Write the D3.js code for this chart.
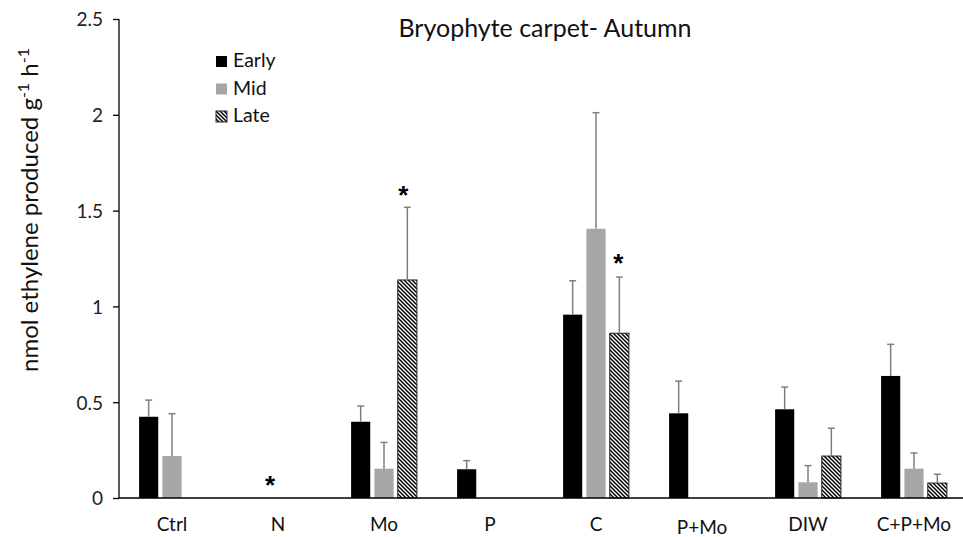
<!DOCTYPE html>
<html>
<head>
<meta charset="utf-8">
<script src="https://cdn.jsdelivr.net/npm/d3@7"></script>
<style>
  body { margin: 0; background: #fff; }
  text { font-family: Lato, "Open Sans", sans-serif; }
</style>
</head>
<body>
<div class="chart"></div>
<script>
var svgWidth = 963;
var svgHeight = 537;

// categories and series
var categories = ["Ctrl", "N", "Mo", "P", "C", "P+Mo", "DIW", "C+P+Mo"];
var seriesNames = ["Early", "Mid", "Late"];

// mean values
var early = [0.424, 0, 0.398, 0.15, 0.957, 0.442, 0.463, 0.637];
var mid   = [0.219, 0, 0.153, 0, 1.405, 0, 0.082, 0.153];
var late  = [0, 0, 1.138, 0, 0.86, 0, 0.219, 0.078];

// upper error bars
var earlyErr = [0.087, 0, 0.082, 0.045, 0.177, 0.168, 0.116, 0.165];
var midErr   = [0.221, 0, 0.137, 0, 0.606, 0, 0.087, 0.082];
var lateErr  = [0, 0, 0.379, 0, 0.293, 0, 0.145, 0.046];

// significance stars: category, series, value where the star sits
var stars = [
  { cat: "N", series: "Mid", value: 0.10, dx: -8 },
  { cat: "Mo", series: "Late", value: 1.615, dx: -4 },
  { cat: "C", series: "Late", value: 1.26, dx: -1 }
];

var yTicks = [0, 0.5, 1, 1.5, 2, 2.5];

var margin = { top: 19, left: 119, bottom: 39 };
var plotRight = 967;
var height = svgHeight - margin.top - margin.bottom;

var svg = d3.select(".chart")
  .append("svg")
  .attr("width", svgWidth)
  .attr("height", svgHeight);

var defs = svg.append("defs");
var hatch = defs.append("pattern")
  .attr("id", "hatch")
  .attr("patternUnits", "userSpaceOnUse")
  .attr("width", 4)
  .attr("height", 4);
hatch.append("rect").attr("width", 4).attr("height", 4).attr("fill", "#fff");
hatch.append("path")
  .attr("d", "M0,0L4,4M-1,3L1,5M3,-1L5,1")
  .attr("stroke", "#000")
  .attr("stroke-width", 1.5);

var table = categories.map(function(c, i) {
  return {
    cat: c,
    values: [
      { series: "Early", value: early[i], err: earlyErr[i] },
      { series: "Mid", value: mid[i], err: midErr[i] },
      { series: "Late", value: late[i], err: lateErr[i] }
    ]
  };
});

var x0 = d3.scaleBand()
  .domain(categories)
  .range([margin.left, plotRight]);

var x1 = d3.scaleBand()
  .domain(seriesNames)
  .range([-35, 35])
  .paddingInner(0.18)
  .paddingOuter(0.09);

var y = d3.scaleLinear()
  .domain([0, 2.5])
  .range([margin.top + height, margin.top]);

var fills = { Early: "#000", Mid: "#a6a6a6", Late: "url(#hatch)" };

// y axis
var yAxis = svg.append("g")
  .attr("transform", "translate(" + margin.left + ",0)")
  .call(d3.axisLeft(y).tickValues(yTicks).tickSize(6).tickPadding(10)
    .tickFormat(function(d) { return d; }));
yAxis.select(".domain").attr("stroke", "#000").attr("stroke-width", 1.3)
  .attr("d", "M0," + y(2.5) + "V" + y(0));
yAxis.selectAll(".tick line").attr("stroke", "#000").attr("stroke-width", 1.3);
yAxis.selectAll(".tick text")
  .style("font-size", "19px")
  .attr("fill", "#222")
  .attr("dy", "0.36em");

// bars
var groups = svg.append("g")
  .selectAll("g")
  .data(table)
  .join("g")
  .attr("transform", function(d) { return "translate(" + (x0(d.cat) + x0.bandwidth() / 2) + ",0)"; });

groups.selectAll("rect")
  .data(function(d) { return d.values.filter(function(v) { return v.value > 0; }); })
  .join("rect")
  .attr("x", function(d) { return x1(d.series); })
  .attr("width", x1.bandwidth())
  .attr("y", function(d) { return y(d.value); })
  .attr("height", function(d) { return y(0) - y(d.value); })
  .attr("fill", function(d) { return fills[d.series]; })
  .attr("stroke", function(d) { return d.series === "Late" ? "#222" : "none"; })
  .attr("stroke-width", 1);

// error bars
var errs = groups.selectAll("g.err")
  .data(function(d) { return d.values.filter(function(v) { return v.value > 0 && v.err > 0; }); })
  .join("g")
  .attr("class", "err")
  .attr("stroke", "#7f7f7f")
  .attr("stroke-width", 1.5);
errs.append("line")
  .attr("x1", function(d) { return x1(d.series) + x1.bandwidth() / 2; })
  .attr("x2", function(d) { return x1(d.series) + x1.bandwidth() / 2; })
  .attr("y1", function(d) { return y(d.value); })
  .attr("y2", function(d) { return y(d.value + d.err); });
errs.append("line")
  .attr("x1", function(d) { return x1(d.series) + x1.bandwidth() / 2 - 3.5; })
  .attr("x2", function(d) { return x1(d.series) + x1.bandwidth() / 2 + 3.5; })
  .attr("y1", function(d) { return y(d.value + d.err); })
  .attr("y2", function(d) { return y(d.value + d.err); });

// x axis line
svg.append("line")
  .attr("x1", margin.left)
  .attr("x2", plotRight)
  .attr("y1", y(0))
  .attr("y2", y(0))
  .attr("stroke", "#000")
  .attr("stroke-width", 1.3);

// category labels
svg.append("g")
  .selectAll("text")
  .data(categories)
  .join("text")
  .attr("x", function(d) { return x0(d) + x0.bandwidth() / 2; })
  .attr("y", function(d) { return d === "P+Mo" ? 533.5 : 531; })
  .attr("text-anchor", "middle")
  .style("font-size", "19px")
  .attr("fill", "#111")
  .text(function(d) { return d; });

// stars
svg.append("g")
  .selectAll("text")
  .data(stars)
  .join("text")
  .attr("x", function(d) { return x0(d.cat) + x0.bandwidth() / 2 + x1(d.series) + x1.bandwidth() / 2 + d.dx; })
  .attr("y", function(d) { return y(d.value) + 15; })
  .attr("text-anchor", "middle")
  .style("font-family", "'Liberation Sans', Arial, sans-serif")
  .style("font-size", "26px")
  .style("font-weight", "bold")
  .text("*");

// title
svg.append("text")
  .attr("x", 545)
  .attr("y", 37)
  .attr("text-anchor", "middle")
  .style("font-size", "25px")
  .attr("fill", "#111")
  .text("Bryophyte carpet- Autumn");

// y axis title
var yt = svg.append("text")
  .attr("transform", "translate(38," + 210 + ") rotate(-90)")
  .attr("text-anchor", "middle")
  .style("font-size", "24px")
  .attr("fill", "#111");
yt.append("tspan").text("nmol ethylene produced g");
yt.append("tspan").attr("dy", -9).style("font-size", "16px").text("-1");
yt.append("tspan").attr("dy", 9).text(" h");
yt.append("tspan").attr("dy", -9).style("font-size", "16px").text("-1");

// legend
var legend = svg.append("g")
  .selectAll("g")
  .data(seriesNames)
  .join("g")
  .attr("transform", function(d, i) { return "translate(216," + (56 + i * 27.5) + ")"; });
legend.append("rect")
  .attr("width", 11)
  .attr("height", 11)
  .attr("fill", function(d) { return fills[d]; })
  .attr("stroke", function(d) { return d === "Late" ? "#222" : "none"; });
legend.append("text")
  .attr("x", 17)
  .attr("y", 11)
  .style("font-size", "19.5px")
  .attr("fill", "#111")
  .text(function(d) { return d; });
</script>
</body>
</html>
